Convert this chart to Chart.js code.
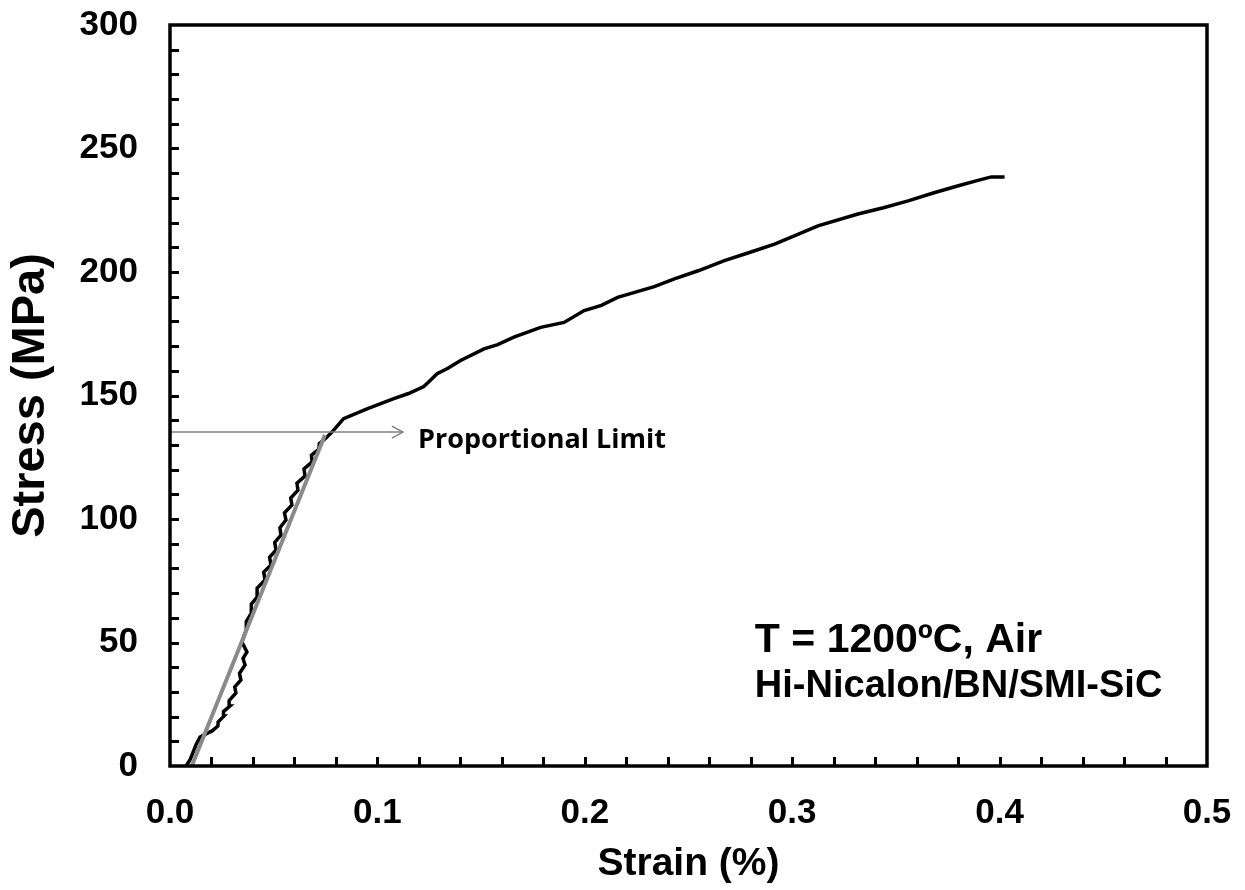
<!DOCTYPE html>
<html lang="en">
<head>
    <meta charset="UTF-8">
    <title>Stress-Strain Curve</title>
    <script src="https://cdn.jsdelivr.net/npm/chart.js"></script>
    <style>
        body {
            margin: 0;
            background-color: white;
        }
        #wrap {
            width: 1245px;
            height: 890px;
        }
    </style>
</head>
<body>
    <div id="wrap"><canvas id="chart" width="1245" height="890"></canvas></div>

    <script>
        // measured curve (strain %, stress MPa)
        const strain = [
            0.0077, 0.0096, 0.0125, 0.0145, 0.0174, 0.0203, 0.0231, 0.0232, 0.0260, 0.0258,
            0.0289, 0.0285, 0.0318, 0.0312, 0.0342, 0.0335, 0.0362, 0.0352, 0.0371, 0.0347,
            0.0371, 0.0368, 0.0395, 0.0392, 0.0424, 0.0420, 0.0458, 0.0452, 0.0487, 0.0480,
            0.0511, 0.0505, 0.0535, 0.0530, 0.0559, 0.0552, 0.0588, 0.0582, 0.0617, 0.0612,
            0.0651, 0.0646, 0.0685, 0.0682, 0.0718, 0.0720, 0.0752, 0.0781, 0.0837, 0.0950,
            0.1079, 0.1150, 0.1224, 0.1288, 0.1340, 0.1401, 0.1514, 0.1580, 0.1658, 0.1787,
            0.1900, 0.1997, 0.2080, 0.2158, 0.2335, 0.2432, 0.2550, 0.2673, 0.2790, 0.2915,
            0.3010, 0.3124, 0.3317, 0.3440, 0.3559, 0.3680, 0.3801, 0.3900, 0.3960, 0.4024
        ];
        const stress = [
            0, 2.4, 8.5, 11.7, 13.0, 14.2, 16.2, 17.8, 20.2, 22.0,
            24.3, 26.5, 29.6, 32.0, 34.8, 37.5, 40.9, 43.5, 46.2, 50.2,
            55.9, 58.5, 62.3, 65.5, 68.8, 72.0, 75.3, 78.5, 81.4, 84.5,
            87.4, 90.5, 93.5, 96.5, 99.6, 102.5, 105.7, 108.5, 111.7, 114.5,
            117.4, 120.3, 123.1, 125.8, 128.3, 130.5, 132.8, 135.2, 140.6, 144.6,
            148.7, 150.8, 153.6, 158.8, 161.0, 164.2, 168.9, 170.6, 173.6, 177.6,
            179.6, 184.4, 186.5, 189.7, 194.1, 197.2, 200.6, 204.6, 207.8, 211.3,
            214.6, 218.7, 223.5, 226.0, 228.8, 232.0, 234.9, 237.2, 238.5, 238.5
        ];

        // linear fit (grey) and proportional limit arrow
        const fitStrain = [0.0105, 0.0747];
        const fitStress = [0, 134.0];
        const arrowStrain = [0, 0.1123];
        const arrowStress = [135.2, 135.2];

        const xTicks = [0, 0.1, 0.2, 0.3, 0.4, 0.5];
        const yTicks = [0, 50, 100, 150, 200, 250, 300];

        const FONT = '"Liberation Sans", Arial, sans-serif';

        function toPoints(xs, ys) {
            return xs.map((x, i) => ({x: x, y: ys[i]}));
        }

        // frame, inward minor ticks, arrow head and text notes
        const decorations = {
            id: 'decorations',
            afterDatasetsDraw(chart) {
                const ctx = chart.ctx;
                const area = chart.chartArea;
                const xs = chart.scales.x;
                const ys = chart.scales.y;
                ctx.save();

                // minor ticks
                ctx.strokeStyle = '#000';
                ctx.lineWidth = 3;
                ctx.beginPath();
                for (let v = 10; v < 300; v += 10) {
                    const py = Math.round(ys.getPixelForValue(v)) + 0.5;
                    ctx.moveTo(area.left, py);
                    ctx.lineTo(area.left + 9, py);
                }
                for (let k = 1; k < 25; k++) {
                    const px = Math.round(xs.getPixelForValue(k * 0.02)) + 0.5;
                    ctx.moveTo(px, area.bottom);
                    ctx.lineTo(px, area.bottom - 9);
                }
                ctx.stroke();

                // frame
                ctx.lineWidth = 3.5;
                ctx.strokeRect(area.left, area.top, area.right - area.left, area.bottom - area.top);

                // arrow head
                const ax = xs.getPixelForValue(arrowStrain[1]);
                const ay = ys.getPixelForValue(arrowStress[1]);
                ctx.strokeStyle = '#808080';
                ctx.lineWidth = 1.5;
                ctx.beginPath();
                ctx.moveTo(ax - 11, ay - 6);
                ctx.lineTo(ax, ay);
                ctx.lineTo(ax - 11, ay + 6);
                ctx.stroke();

                // notes
                ctx.fillStyle = '#000';
                ctx.textBaseline = 'alphabetic';
                ctx.textAlign = 'left';
                ctx.font = 'bold 27px "Open Sans", sans-serif';
                ctx.fillText('Proportional Limit', xs.getPixelForValue(0.1196), ys.getPixelForValue(128.7));
                ctx.font = 'bold 41px ' + FONT;
                ctx.fillText('T = 1200ºC, Air', xs.getPixelForValue(0.282), ys.getPixelForValue(46));
                ctx.font = 'bold 38px ' + FONT;
                ctx.fillText('Hi-Nicalon/BN/SMI-SiC', xs.getPixelForValue(0.282), ys.getPixelForValue(28));
                ctx.restore();
            }
        };

        new Chart(document.getElementById('chart'), {
            type: 'scatter',
            data: {
                datasets: [
                    {
                        label: 'Stress-strain',
                        data: toPoints(strain, stress),
                        showLine: true,
                        borderColor: '#000',
                        borderWidth: 3.5,
                        pointRadius: 0,
                        tension: 0,
                        order: 2
                    },
                    {
                        label: 'Linear fit',
                        data: toPoints(fitStrain, fitStress),
                        showLine: true,
                        borderColor: '#8a8a8a',
                        borderWidth: 4,
                        pointRadius: 0,
                        order: 1
                    },
                    {
                        label: 'Proportional limit',
                        data: toPoints(arrowStrain, arrowStress),
                        showLine: true,
                        borderColor: '#808080',
                        borderWidth: 1.5,
                        pointRadius: 0,
                        order: 0
                    }
                ]
            },
            options: {
                responsive: false,
                animation: false,
                layout: {
                    padding: {top: 25, right: 38, left: 0, bottom: 0}
                },
                plugins: {
                    legend: {display: false},
                    tooltip: {enabled: false}
                },
                scales: {
                    x: {
                        type: 'linear',
                        min: 0,
                        max: 0.5,
                        afterFit: s => { s.height = 124; s.paddingLeft = 0; s.paddingRight = 0; },
                        afterBuildTicks: s => { s.ticks = xTicks.map(v => ({value: v})); },
                        grid: {display: false, drawTicks: false},
                        border: {display: false},
                        ticks: {
                            padding: 26,
                            color: '#000',
                            font: {family: FONT, size: 35, weight: 'bold'},
                            callback: v => v.toFixed(1),
                            maxRotation: 0
                        },
                        title: {
                            display: true,
                            text: 'Strain (%)',
                            color: '#000',
                            font: {family: FONT, size: 39, weight: 'bold'},
                            padding: {top: 0, bottom: 2}
                        }
                    },
                    y: {
                        type: 'linear',
                        min: 0,
                        max: 300,
                        afterFit: s => { s.width = 170; s.paddingTop = 0; s.paddingBottom = 0; },
                        afterBuildTicks: s => { s.ticks = yTicks.map(v => ({value: v})); },
                        grid: {display: false, drawTicks: false},
                        border: {display: false},
                        ticks: {
                            padding: 32,
                            color: '#000',
                            font: {family: FONT, size: 35, weight: 'bold'}
                        },
                        title: {
                            display: true,
                            text: 'Stress (MPa)',
                            color: '#000',
                            font: {family: FONT, size: 47, weight: 'bold'},
                            padding: {top: 3, bottom: 0}
                        }
                    }
                }
            },
            plugins: [decorations]
        });
    </script>
</body>
</html>
